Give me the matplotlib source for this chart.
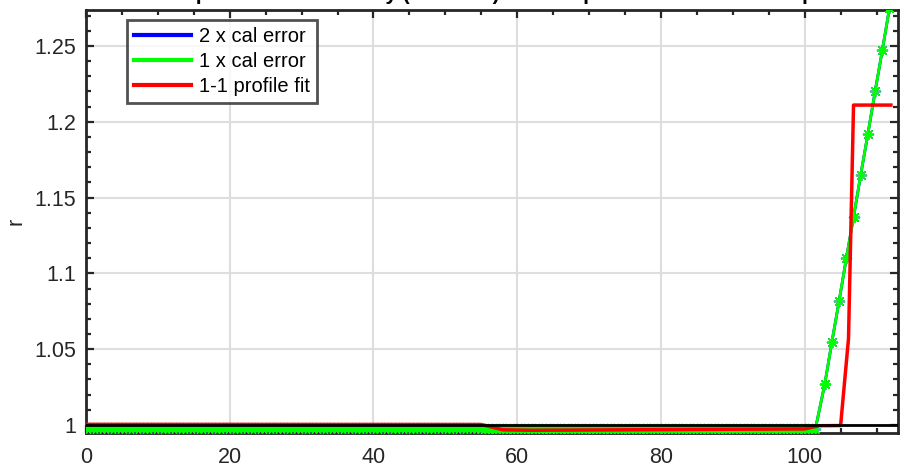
import numpy as np
import matplotlib
matplotlib.use("Agg")
import matplotlib.pyplot as plt
from matplotlib.ticker import MultipleLocator

plt.rcParams['font.family'] = ['Liberation Sans', 'DejaVu Sans']

# ── Data ──────────────────────────────────────────────────────────────────────
# flat part of the cal-error curves (dense samples, every 0.5)
flat_x = np.arange(0, 102, 0.5)
flat_y = [0.9982] * 110 + [0.9976] * 94

# linear rise after x ~ 102
ramp_x = [102.8, 103.8, 104.8, 105.8, 106.8, 107.8, 108.8, 109.8, 110.8, 111.8]
ramp_y = [1.027, 1.055, 1.082, 1.110, 1.137, 1.165, 1.192, 1.220, 1.247, 1.275]

green_x = list(flat_x) + ramp_x
green_y = flat_y + ramp_y
blue_x = green_x
blue_y = green_y

red_x = [0, 55, 58, 62, 75, 100, 102, 105.0, 106.1, 106.8, 112.0]
red_y = [1.0004, 1.0003, 0.9968, 0.9965, 0.9968, 0.9974, 0.9995, 0.9996, 1.057, 1.211, 1.211]

ref_level = 1.0

legend_labels = ['2 x cal error', '1 x cal error', '1-1 profile fit']
title_text = 'Cross-slope with conductivity (1-1 case) with amplitude of cal error vs position'

# ── Plot ──────────────────────────────────────────────────────────────────────
fig = plt.figure(figsize=(9.09, 4.68), dpi=100)
ax = fig.add_axes([0.0946, 0.0748, 0.8934, 0.9038])

edge = '#262626'
asterisk = (8, 2, 0)
ax.plot(blue_x, blue_y, '-', color='#0000ff', lw=2.0, marker=asterisk, ms=8,
        mew=1.0, zorder=3, label=legend_labels[0])
ax.plot(green_x, green_y, '-', color='#00ff00', lw=2.0, marker=asterisk, ms=8,
        mew=1.0, zorder=4, label=legend_labels[1])
ax.plot(red_x, red_y, '-', color='#ff0000', lw=2.5, zorder=4.5,
        label=legend_labels[2])
ax.axhline(ref_level, color='black', lw=2.0, zorder=5)

ax.set_xlim(0, 113)
ax.set_ylim(0.9947, 1.2737)
ax.xaxis.set_major_locator(MultipleLocator(20))
ax.xaxis.set_minor_locator(MultipleLocator(5))
ax.yaxis.set_minor_locator(MultipleLocator(0.01))
ax.set_yticks([1, 1.05, 1.1, 1.15, 1.2, 1.25])
ax.set_yticklabels(['1', '1.05', '1.1', '1.15', '1.2', '1.25'])

ax.tick_params(which='both', direction='in', top=True, right=True,
               colors=edge, labelsize=15.5, width=1.6)
ax.tick_params(which='major', length=6, pad=7)
ax.tick_params(axis='x', which='major', pad=10)
ax.tick_params(which='minor', length=3.5)
for sp in ax.spines.values():
    sp.set_color(edge)
    sp.set_linewidth(2.0)

ax.grid(True, which='major', color='#dedede', lw=1.5, zorder=0)
ax.set_axisbelow(True)

ax.set_ylabel('r', fontsize=15.5, color=edge, labelpad=6)

leg = ax.legend(loc='upper left', bbox_to_anchor=(0.051, 0.976), fontsize=14.5,
                frameon=True, fancybox=False, handlelength=2.8,
                borderpad=0.35, labelspacing=0.3, handletextpad=0.4,
                borderaxespad=0)
leg.get_frame().set_edgecolor(edge)
leg.get_frame().set_linewidth(2.0)
for h in leg.legend_handles:
    h.set_marker('')
    h.set_linewidth(3)

# title sits mostly above the canvas (clipped in the reference)
fig.text(0.54, 1 - 0.5 / 468, title_text, ha='center', va='baseline',
         fontsize=15, fontweight='bold', color='black')

fig.savefig('out.png', dpi=100)
